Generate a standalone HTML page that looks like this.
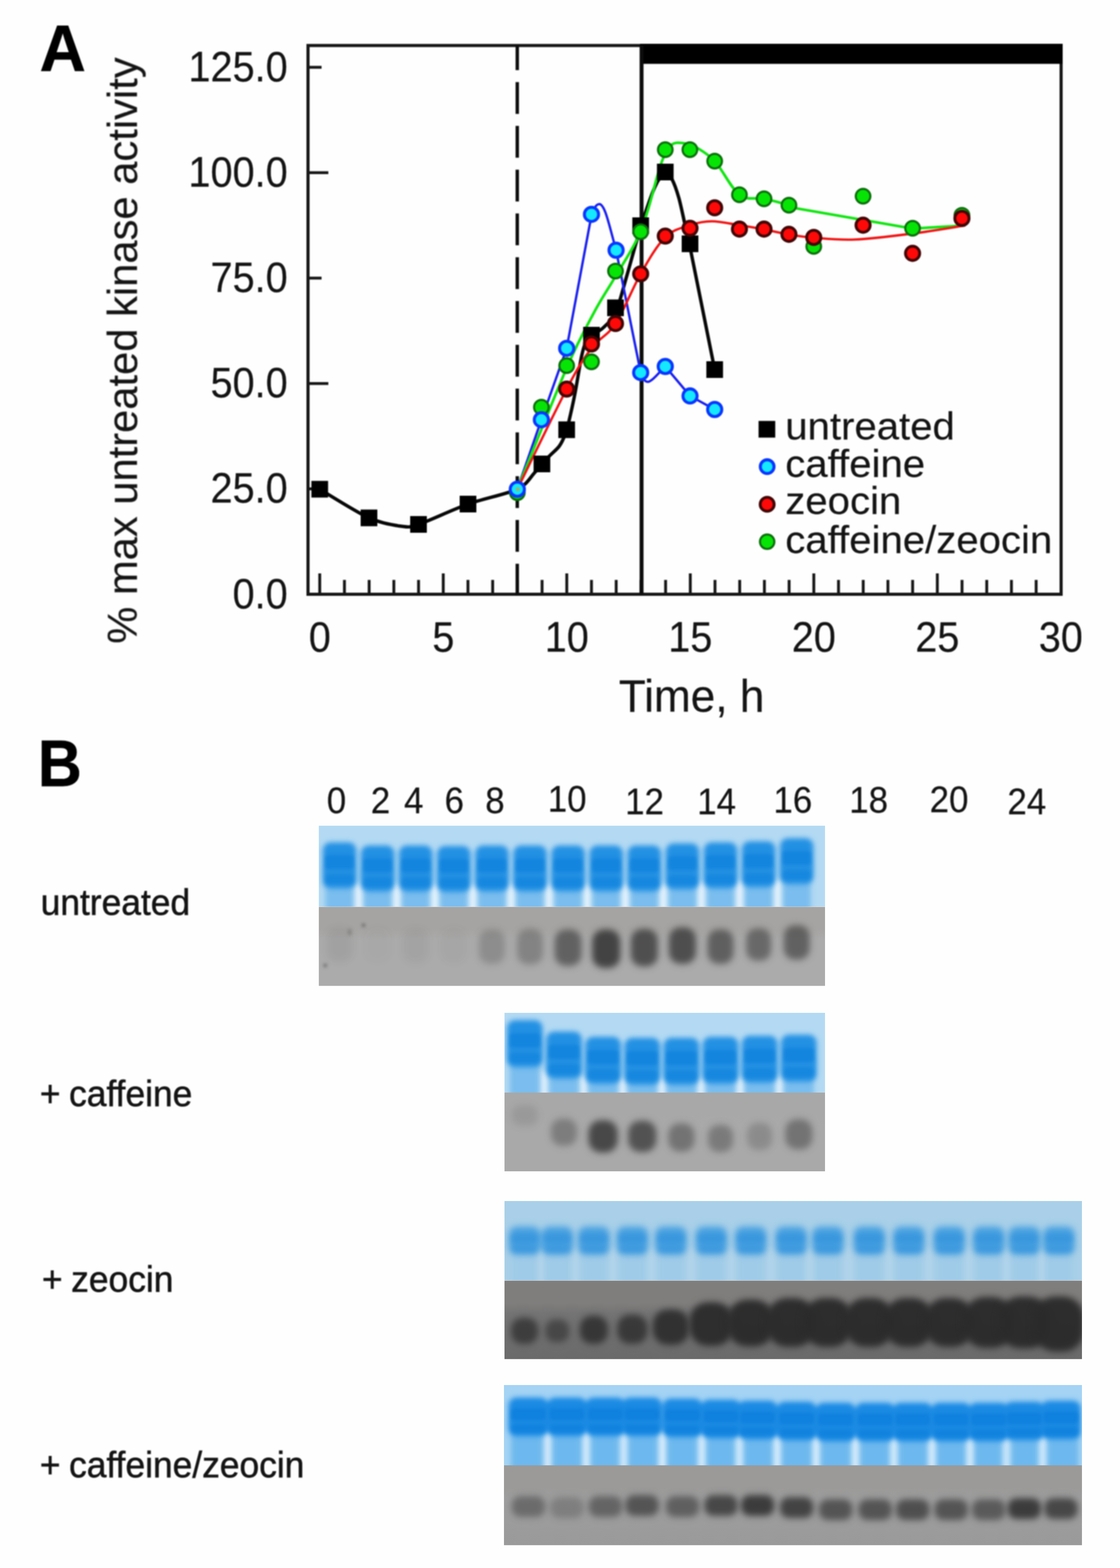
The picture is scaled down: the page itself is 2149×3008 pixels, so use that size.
<!DOCTYPE html>
<html lang="en"><head><meta charset="utf-8"><title>Figure</title>
<style>html,body{margin:0;padding:0;background:#fff}svg{display:block}text{font-family:"Liberation Sans",Arial,Helvetica,sans-serif}</style></head><body>
<svg width="2149" height="3008" viewBox="0 0 2149 3008">
<defs>
<filter id="b1" color-interpolation-filters="sRGB" x="-5%" y="-5%" width="110%" height="110%"><feGaussianBlur stdDeviation="1.3"/></filter>
<filter id="bt" color-interpolation-filters="sRGB" x="-5%" y="-20%" width="110%" height="140%"><feGaussianBlur stdDeviation="1.0"/></filter>
<filter id="b3" color-interpolation-filters="sRGB" x="-100%" y="-100%" width="300%" height="300%"><feGaussianBlur stdDeviation="2.12"/><feGaussianBlur stdDeviation="2.12"/></filter>
<filter id="b5" color-interpolation-filters="sRGB" x="-100%" y="-100%" width="300%" height="300%"><feGaussianBlur stdDeviation="3.54"/><feGaussianBlur stdDeviation="3.54"/></filter>
<filter id="b7" color-interpolation-filters="sRGB" x="-100%" y="-100%" width="300%" height="300%"><feGaussianBlur stdDeviation="4.95"/><feGaussianBlur stdDeviation="4.95"/></filter>
<radialGradient id="rgA" cx="0.5" cy="0.5" r="0.5"><stop offset="0" stop-color="#303030" stop-opacity="1.0"/><stop offset="0.3" stop-color="#303030" stop-opacity="1.0"/><stop offset="0.45" stop-color="#303030" stop-opacity="0.92"/><stop offset="0.58" stop-color="#303030" stop-opacity="0.72"/><stop offset="0.7" stop-color="#303030" stop-opacity="0.45"/><stop offset="0.82" stop-color="#303030" stop-opacity="0.2"/><stop offset="0.92" stop-color="#303030" stop-opacity="0.06"/><stop offset="1" stop-color="#303030" stop-opacity="0"/></radialGradient>
<radialGradient id="rgB" cx="0.5" cy="0.5" r="0.5"><stop offset="0" stop-color="#2a2a2a" stop-opacity="1.0"/><stop offset="0.3" stop-color="#2a2a2a" stop-opacity="1.0"/><stop offset="0.45" stop-color="#2a2a2a" stop-opacity="0.92"/><stop offset="0.58" stop-color="#2a2a2a" stop-opacity="0.72"/><stop offset="0.7" stop-color="#2a2a2a" stop-opacity="0.45"/><stop offset="0.82" stop-color="#2a2a2a" stop-opacity="0.2"/><stop offset="0.92" stop-color="#2a2a2a" stop-opacity="0.06"/><stop offset="1" stop-color="#2a2a2a" stop-opacity="0"/></radialGradient>
<radialGradient id="rgC" cx="0.5" cy="0.5" r="0.5"><stop offset="0" stop-color="#262626" stop-opacity="1.0"/><stop offset="0.3" stop-color="#262626" stop-opacity="1.0"/><stop offset="0.45" stop-color="#262626" stop-opacity="0.92"/><stop offset="0.58" stop-color="#262626" stop-opacity="0.72"/><stop offset="0.7" stop-color="#262626" stop-opacity="0.45"/><stop offset="0.82" stop-color="#262626" stop-opacity="0.2"/><stop offset="0.92" stop-color="#262626" stop-opacity="0.06"/><stop offset="1" stop-color="#262626" stop-opacity="0"/></radialGradient>
</defs>
<rect width="2149" height="3008" fill="#fefefe"/>
<g id="chart" filter="url(#b1)">
<clipPath id="cpf"><rect x="591" y="87.3" width="1445" height="1052.7"/></clipPath>
<rect x="591" y="87.3" width="1445" height="1052.7" fill="none" stroke="#161616" stroke-width="6"/>
<rect x="1228" y="84" width="811" height="38.5" fill="#000"/>
<line x1="613.5" y1="1140" x2="613.5" y2="1100" stroke="#161616" stroke-width="5.5"/>
<line x1="660.9" y1="1140" x2="660.9" y2="1112.5" stroke="#161616" stroke-width="5.5"/>
<line x1="708.3" y1="1140" x2="708.3" y2="1112.5" stroke="#161616" stroke-width="5.5"/>
<line x1="755.7" y1="1140" x2="755.7" y2="1112.5" stroke="#161616" stroke-width="5.5"/>
<line x1="803.1" y1="1140" x2="803.1" y2="1112.5" stroke="#161616" stroke-width="5.5"/>
<line x1="850.5" y1="1140" x2="850.5" y2="1100" stroke="#161616" stroke-width="5.5"/>
<line x1="897.9" y1="1140" x2="897.9" y2="1112.5" stroke="#161616" stroke-width="5.5"/>
<line x1="945.3" y1="1140" x2="945.3" y2="1112.5" stroke="#161616" stroke-width="5.5"/>
<line x1="992.7" y1="1140" x2="992.7" y2="1112.5" stroke="#161616" stroke-width="5.5"/>
<line x1="1040.1" y1="1140" x2="1040.1" y2="1112.5" stroke="#161616" stroke-width="5.5"/>
<line x1="1087.5" y1="1140" x2="1087.5" y2="1100" stroke="#161616" stroke-width="5.5"/>
<line x1="1134.9" y1="1140" x2="1134.9" y2="1112.5" stroke="#161616" stroke-width="5.5"/>
<line x1="1182.3" y1="1140" x2="1182.3" y2="1112.5" stroke="#161616" stroke-width="5.5"/>
<line x1="1229.7" y1="1140" x2="1229.7" y2="1112.5" stroke="#161616" stroke-width="5.5"/>
<line x1="1277.1" y1="1140" x2="1277.1" y2="1112.5" stroke="#161616" stroke-width="5.5"/>
<line x1="1324.5" y1="1140" x2="1324.5" y2="1100" stroke="#161616" stroke-width="5.5"/>
<line x1="1371.9" y1="1140" x2="1371.9" y2="1112.5" stroke="#161616" stroke-width="5.5"/>
<line x1="1419.3" y1="1140" x2="1419.3" y2="1112.5" stroke="#161616" stroke-width="5.5"/>
<line x1="1466.7" y1="1140" x2="1466.7" y2="1112.5" stroke="#161616" stroke-width="5.5"/>
<line x1="1514.1" y1="1140" x2="1514.1" y2="1112.5" stroke="#161616" stroke-width="5.5"/>
<line x1="1561.5" y1="1140" x2="1561.5" y2="1100" stroke="#161616" stroke-width="5.5"/>
<line x1="1608.9" y1="1140" x2="1608.9" y2="1112.5" stroke="#161616" stroke-width="5.5"/>
<line x1="1656.3" y1="1140" x2="1656.3" y2="1112.5" stroke="#161616" stroke-width="5.5"/>
<line x1="1703.7" y1="1140" x2="1703.7" y2="1112.5" stroke="#161616" stroke-width="5.5"/>
<line x1="1751.1" y1="1140" x2="1751.1" y2="1112.5" stroke="#161616" stroke-width="5.5"/>
<line x1="1798.5" y1="1140" x2="1798.5" y2="1100" stroke="#161616" stroke-width="5.5"/>
<line x1="1845.9" y1="1140" x2="1845.9" y2="1112.5" stroke="#161616" stroke-width="5.5"/>
<line x1="1893.3" y1="1140" x2="1893.3" y2="1112.5" stroke="#161616" stroke-width="5.5"/>
<line x1="1940.7" y1="1140" x2="1940.7" y2="1112.5" stroke="#161616" stroke-width="5.5"/>
<line x1="1988.1" y1="1140" x2="1988.1" y2="1112.5" stroke="#161616" stroke-width="5.5"/>
<line x1="591" y1="937.8" x2="617" y2="937.8" stroke="#161616" stroke-width="5.5"/>
<line x1="591" y1="735.7" x2="630" y2="735.7" stroke="#161616" stroke-width="5.5"/>
<line x1="591" y1="533.5" x2="617" y2="533.5" stroke="#161616" stroke-width="5.5"/>
<line x1="591" y1="331.3" x2="630" y2="331.3" stroke="#161616" stroke-width="5.5"/>
<line x1="591" y1="129.1" x2="617" y2="129.1" stroke="#161616" stroke-width="5.5"/>
<line x1="992.5" y1="73.6" x2="992.5" y2="1140" stroke="#0c0c0c" stroke-width="6.5" stroke-dasharray="61 23" clip-path="url(#cpf)"/>
<line x1="1231" y1="87.3" x2="1231" y2="1140" stroke="#0c0c0c" stroke-width="7.5"/>
<path d="M613.5,938.5 C627.7,946.8 684.5,982.9 708.0,993.5 C731.5,1004.1 755.8,1007.6 770.0,1009.5 C784.2,1011.4 783.8,1012.4 803.0,1006.0 C822.2,999.6 869.6,977.1 898.0,967.0 C926.4,956.9 973.3,947.6 992.6,938.5 C1011.9,929.4 1017.4,915.4 1026.5,906.0 C1035.6,896.6 1046.0,883.5 1053.0,876.0 C1060.0,868.5 1068.2,862.6 1073.0,856.0 C1077.8,849.4 1082.3,839.0 1085.0,832.0 C1087.7,825.0 1088.6,820.9 1091.3,809.5 C1094.0,798.1 1099.3,775.0 1103.0,756.0 C1106.7,737.0 1112.8,697.9 1116.0,683.0 C1119.2,668.1 1121.2,662.5 1124.0,656.5 C1126.8,650.5 1130.1,647.0 1134.9,643.0 C1139.7,639.0 1149.1,636.5 1156.0,630.0 C1162.9,623.5 1174.0,615.1 1181.0,600.0 C1188.0,584.9 1195.5,553.6 1202.7,529.0 C1209.9,504.4 1221.3,461.4 1229.3,436.0 C1237.3,410.6 1248.9,375.9 1256.0,360.0 C1263.1,344.1 1271.5,332.6 1276.5,330.0 C1281.5,327.4 1285.1,335.6 1289.0,343.0 C1292.9,350.4 1298.8,366.6 1302.5,379.6 C1306.2,392.6 1310.5,414.0 1314.0,429.5 C1317.5,445.0 1317.1,440.8 1325.7,482.7 C1334.3,524.6 1364.5,675.1 1371.3,709.0" fill="none" stroke="#080808" stroke-width="6.5" stroke-linejoin="round"/>
<path d="M992.6,938.5 L1038.8,805.2 L1087.3,668.2 L1131.5,431 C1137,402 1143,391.5 1150,391.5 C1159,391.5 1166.5,422 1173,446 L1182.1,480 L1229.3,714.7 C1234,729 1240,735 1246.5,731.5 C1257,726 1266,712 1276.5,703 L1324,759.6 L1371.3,785.5" fill="none" stroke="#1a20f0" stroke-width="4.6" stroke-linejoin="round"/>
<path d="M992.6,938.5 C1008.4,899.8 1062.8,762.4 1087.3,706.0 C1111.8,649.6 1123.9,629.3 1139.5,600.0 C1155.1,570.7 1166.0,556.0 1181.0,530.0 C1196.0,504.0 1215.8,476.5 1229.3,444.0 C1242.8,411.5 1256.5,353.2 1262.0,335.0 C1270,306 1281,274.5 1298,274 C1310,273.5 1320,275.5 1332,280 L1332.0,280.0 C1338.5,284.8 1356.8,293.4 1371.3,309.0 C1385.8,324.6 1403.0,361.6 1418.8,373.6 C1434.6,385.7 1450.2,378.0 1466.0,381.3 C1481.8,384.6 1503.1,390.5 1513.8,393.6 C1524.5,396.7 1527.3,398.9 1530.0,400.0 L1751,438.5 L1852,432.5" fill="none" stroke="#12e612" stroke-width="5.2" stroke-linejoin="round"/>
<path d="M992.6,938.5 C1008.4,906.5 1063.6,791.4 1087.3,746.3 C1111.0,701.2 1119.3,688.9 1134.9,668.0 C1150.5,647.1 1165.3,644.8 1181.0,621.0 C1196.7,597.2 1213.4,553.0 1229.3,525.3 C1245.2,497.6 1260.7,470.6 1276.5,455.0 C1292.3,439.4 1309.1,437.1 1324.0,432.0 C1338.9,426.9 1350.2,424.5 1366.0,424.5 C1381.8,424.5 1402.1,429.4 1418.8,432.0 C1435.5,434.6 1450.2,437.0 1466.0,440.0 C1481.8,443.0 1497.9,447.3 1513.8,450.0 C1529.7,452.7 1540.4,454.4 1561.4,456.0 C1582.4,457.6 1608.4,460.8 1640.0,459.5 C1671.6,458.2 1715.7,452.5 1751.0,448.0 C1786.3,443.5 1835.2,435.1 1852.0,432.5" fill="none" stroke="#f21414" stroke-width="4.6" stroke-linejoin="round"/>
<rect x="597.5" y="922.5" width="32" height="32" fill="#000"/>
<rect x="692.0" y="977.5" width="32" height="32" fill="#000"/>
<rect x="787.0" y="990.0" width="32" height="32" fill="#000"/>
<rect x="882.0" y="951.0" width="32" height="32" fill="#000"/>
<rect x="1023.8" y="874.0" width="32" height="32" fill="#000"/>
<rect x="1071.3" y="808.4" width="32" height="32" fill="#000"/>
<rect x="1118.9" y="627.0" width="32" height="32" fill="#000"/>
<rect x="1165.0" y="574.5" width="32" height="32" fill="#000"/>
<rect x="1213.3" y="417.0" width="32" height="32" fill="#000"/>
<rect x="1260.5" y="314.0" width="32" height="32" fill="#000"/>
<rect x="1308.0" y="451.7" width="32" height="32" fill="#000"/>
<rect x="1355.3" y="693.0" width="32" height="32" fill="#000"/>
<circle cx="992.6" cy="945.0" r="14" fill="#06e406" stroke="#0c700c" stroke-width="4.2"/>
<circle cx="1038.8" cy="781.2" r="14" fill="#06e406" stroke="#0c700c" stroke-width="4.2"/>
<circle cx="1087.3" cy="701.4" r="14" fill="#06e406" stroke="#0c700c" stroke-width="4.2"/>
<circle cx="1134.9" cy="694.1" r="14" fill="#06e406" stroke="#0c700c" stroke-width="4.2"/>
<circle cx="1181.0" cy="520.0" r="14" fill="#06e406" stroke="#0c700c" stroke-width="4.2"/>
<circle cx="1229.3" cy="444.5" r="14" fill="#06e406" stroke="#0c700c" stroke-width="4.2"/>
<circle cx="1276.5" cy="287.2" r="14" fill="#06e406" stroke="#0c700c" stroke-width="4.2"/>
<circle cx="1323.7" cy="287.2" r="14" fill="#06e406" stroke="#0c700c" stroke-width="4.2"/>
<circle cx="1371.3" cy="309.1" r="14" fill="#06e406" stroke="#0c700c" stroke-width="4.2"/>
<circle cx="1418.8" cy="373.6" r="14" fill="#06e406" stroke="#0c700c" stroke-width="4.2"/>
<circle cx="1466.0" cy="381.3" r="14" fill="#06e406" stroke="#0c700c" stroke-width="4.2"/>
<circle cx="1513.8" cy="393.6" r="14" fill="#06e406" stroke="#0c700c" stroke-width="4.2"/>
<circle cx="1561.4" cy="472.7" r="14" fill="#06e406" stroke="#0c700c" stroke-width="4.2"/>
<circle cx="1656.0" cy="376.3" r="14" fill="#06e406" stroke="#0c700c" stroke-width="4.2"/>
<circle cx="1751.0" cy="437.8" r="14" fill="#06e406" stroke="#0c700c" stroke-width="4.2"/>
<circle cx="1845.7" cy="413.0" r="14" fill="#06e406" stroke="#0c700c" stroke-width="4.2"/>
<circle cx="1087.3" cy="746.3" r="13.6" fill="#ff0808" stroke="#430505" stroke-width="5.6"/>
<circle cx="1134.9" cy="659.9" r="13.6" fill="#ff0808" stroke="#430505" stroke-width="5.6"/>
<circle cx="1181.0" cy="620.7" r="13.6" fill="#ff0808" stroke="#430505" stroke-width="5.6"/>
<circle cx="1229.3" cy="525.3" r="13.6" fill="#ff0808" stroke="#430505" stroke-width="5.6"/>
<circle cx="1276.5" cy="452.8" r="13.6" fill="#ff0808" stroke="#430505" stroke-width="5.6"/>
<circle cx="1324.0" cy="437.8" r="13.6" fill="#ff0808" stroke="#430505" stroke-width="5.6"/>
<circle cx="1371.3" cy="398.6" r="13.6" fill="#ff0808" stroke="#430505" stroke-width="5.6"/>
<circle cx="1418.8" cy="439.5" r="13.6" fill="#ff0808" stroke="#430505" stroke-width="5.6"/>
<circle cx="1466.0" cy="439.5" r="13.6" fill="#ff0808" stroke="#430505" stroke-width="5.6"/>
<circle cx="1513.8" cy="449.5" r="13.6" fill="#ff0808" stroke="#430505" stroke-width="5.6"/>
<circle cx="1561.4" cy="455.4" r="13.6" fill="#ff0808" stroke="#430505" stroke-width="5.6"/>
<circle cx="1656.0" cy="432.0" r="13.6" fill="#ff0808" stroke="#430505" stroke-width="5.6"/>
<circle cx="1751.0" cy="486.0" r="13.6" fill="#ff0808" stroke="#430505" stroke-width="5.6"/>
<circle cx="1845.7" cy="418.9" r="13.6" fill="#ff0808" stroke="#430505" stroke-width="5.6"/>
<circle cx="992.6" cy="938.5" r="13.6" fill="#14e8ff" stroke="#0a36ff" stroke-width="5.8"/>
<circle cx="1038.8" cy="805.2" r="13.6" fill="#14e8ff" stroke="#0a36ff" stroke-width="5.8"/>
<circle cx="1087.3" cy="668.2" r="13.6" fill="#14e8ff" stroke="#0a36ff" stroke-width="5.8"/>
<circle cx="1134.9" cy="411.2" r="13.6" fill="#14e8ff" stroke="#0a36ff" stroke-width="5.8"/>
<circle cx="1182.1" cy="480.0" r="13.6" fill="#14e8ff" stroke="#0a36ff" stroke-width="5.8"/>
<circle cx="1229.3" cy="714.7" r="13.6" fill="#14e8ff" stroke="#0a36ff" stroke-width="5.8"/>
<circle cx="1276.5" cy="703.0" r="13.6" fill="#14e8ff" stroke="#0a36ff" stroke-width="5.8"/>
<circle cx="1324.0" cy="759.6" r="13.6" fill="#14e8ff" stroke="#0a36ff" stroke-width="5.8"/>
<circle cx="1371.3" cy="785.5" r="13.6" fill="#14e8ff" stroke="#0a36ff" stroke-width="5.8"/>
<circle cx="993.5" cy="938.5" r="4" fill="#c8a040" opacity="0.7"/>
<rect x="1455.5" y="807.5" width="32" height="32" fill="#000"/>
<circle cx="1472.0" cy="895.2" r="13.2" fill="#14e8ff" stroke="#0a36ff" stroke-width="5.8"/>
<circle cx="1472.0" cy="967.4" r="13.4" fill="#ff0808" stroke="#430505" stroke-width="5.6"/>
<circle cx="1472.0" cy="1039.2" r="13.8" fill="#06e406" stroke="#0c700c" stroke-width="4.2"/>
</g>
<g id="labels" filter="url(#bt)">
<text transform="translate(76,136.2) scale(1,1.035)" font-size="122.8" text-anchor="start" font-weight="bold" fill="#000" stroke="#000" stroke-width="0.8">A</text>
<text transform="translate(72.6,1507.8) scale(1,1.075)" font-size="117" text-anchor="start" font-weight="bold" fill="#000" stroke="#000" stroke-width="0.8">B</text>
<text transform="translate(552,1166.6) scale(1,1.075)" font-size="76.1" text-anchor="end" fill="#141414" stroke="#141414" stroke-width="0.3">0.0</text>
<text transform="translate(552,964.4) scale(1,1.075)" font-size="76.1" text-anchor="end" fill="#141414" stroke="#141414" stroke-width="0.3">25.0</text>
<text transform="translate(552,762.3) scale(1,1.075)" font-size="76.1" text-anchor="end" fill="#141414" stroke="#141414" stroke-width="0.3">50.0</text>
<text transform="translate(552,560.1) scale(1,1.075)" font-size="76.1" text-anchor="end" fill="#141414" stroke="#141414" stroke-width="0.3">75.0</text>
<text transform="translate(552,357.9) scale(1,1.075)" font-size="76.1" text-anchor="end" fill="#141414" stroke="#141414" stroke-width="0.3">100.0</text>
<text transform="translate(552,155.7) scale(1,1.075)" font-size="76.1" text-anchor="end" fill="#141414" stroke="#141414" stroke-width="0.3">125.0</text>
<text transform="translate(613.5,1250) scale(1,1.08)" font-size="76" text-anchor="middle" fill="#141414" stroke="#141414" stroke-width="0.3">0</text>
<text transform="translate(850.5,1250) scale(1,1.08)" font-size="76" text-anchor="middle" fill="#141414" stroke="#141414" stroke-width="0.3">5</text>
<text transform="translate(1087.5,1250) scale(1,1.08)" font-size="76" text-anchor="middle" fill="#141414" stroke="#141414" stroke-width="0.3">10</text>
<text transform="translate(1324.5,1250) scale(1,1.08)" font-size="76" text-anchor="middle" fill="#141414" stroke="#141414" stroke-width="0.3">15</text>
<text transform="translate(1561.5,1250) scale(1,1.08)" font-size="76" text-anchor="middle" fill="#141414" stroke="#141414" stroke-width="0.3">20</text>
<text transform="translate(1798.5,1250) scale(1,1.08)" font-size="76" text-anchor="middle" fill="#141414" stroke="#141414" stroke-width="0.3">25</text>
<text transform="translate(2035.5,1250) scale(1,1.08)" font-size="76" text-anchor="middle" fill="#141414" stroke="#141414" stroke-width="0.3">30</text>
<text transform="translate(1327,1365) scale(1,1.035)" font-size="84.8" text-anchor="middle" fill="#141414" stroke="#141414" stroke-width="0.3">Time, h</text>
<text transform="translate(262.5,672.5) rotate(-90) scale(1,0.985)" font-size="80.0" text-anchor="middle" fill="#141414" stroke="#141414" stroke-width="0.3">% max untreated kinase activity</text>
<text transform="translate(1506.8,843.3) scale(1,0.965)" font-size="77" text-anchor="start" fill="#141414" stroke="#141414" stroke-width="0.3">untreated</text>
<text transform="translate(1506.8,915) scale(1,0.965)" font-size="77" text-anchor="start" fill="#141414" stroke="#141414" stroke-width="0.3">caffeine</text>
<text transform="translate(1506.8,985.8) scale(1,0.965)" font-size="77" text-anchor="start" fill="#141414" stroke="#141414" stroke-width="0.3">zeocin</text>
<text transform="translate(1506.8,1061.4) scale(1,0.965)" font-size="77" text-anchor="start" fill="#141414" stroke="#141414" stroke-width="0.3">caffeine/zeocin</text>
<text transform="translate(78,1754.6) scale(1,1.03)" font-size="67.9" text-anchor="start" fill="#141414" stroke="#141414" stroke-width="0.9">untreated</text>
<text transform="translate(76.5,2121.8) scale(1,1.03)" font-size="67.9" text-anchor="start" fill="#141414" stroke="#141414" stroke-width="0.9">+<tspan dx="-2.5"> caffeine</tspan></text>
<text transform="translate(80.5,2478.3) scale(1,1.03)" font-size="67.9" text-anchor="start" fill="#141414" stroke="#141414" stroke-width="0.9">+<tspan dx="-2.5"> zeocin</tspan></text>
<text transform="translate(76.5,2834) scale(1,1.03)" font-size="67.9" text-anchor="start" fill="#141414" stroke="#141414" stroke-width="0.9">+<tspan dx="-2.5"> caffeine/zeocin</tspan></text>
<text transform="translate(645.5,1559.7) scale(1,1.055)" font-size="67" text-anchor="middle" fill="#141414" stroke="#141414" stroke-width="0.3">0</text>
<text transform="translate(730,1559.7) scale(1,1.055)" font-size="67" text-anchor="middle" fill="#141414" stroke="#141414" stroke-width="0.3">2</text>
<text transform="translate(793.8,1559.7) scale(1,1.055)" font-size="67" text-anchor="middle" fill="#141414" stroke="#141414" stroke-width="0.3">4</text>
<text transform="translate(871.7,1559.7) scale(1,1.055)" font-size="67" text-anchor="middle" fill="#141414" stroke="#141414" stroke-width="0.3">6</text>
<text transform="translate(949.6,1559.7) scale(1,1.055)" font-size="67" text-anchor="middle" fill="#141414" stroke="#141414" stroke-width="0.3">8</text>
<text transform="translate(1088.3,1557.2) scale(1,1.055)" font-size="67" text-anchor="middle" fill="#141414" stroke="#141414" stroke-width="0.3">10</text>
<text transform="translate(1236.8,1561.5) scale(1,1.055)" font-size="67" text-anchor="middle" fill="#141414" stroke="#141414" stroke-width="0.3">12</text>
<text transform="translate(1375,1561.5) scale(1,1.055)" font-size="67" text-anchor="middle" fill="#141414" stroke="#141414" stroke-width="0.3">14</text>
<text transform="translate(1521.2,1558.5) scale(1,1.055)" font-size="67" text-anchor="middle" fill="#141414" stroke="#141414" stroke-width="0.3">16</text>
<text transform="translate(1666.7,1558.5) scale(1,1.055)" font-size="67" text-anchor="middle" fill="#141414" stroke="#141414" stroke-width="0.3">18</text>
<text transform="translate(1821,1558.3) scale(1,1.055)" font-size="67" text-anchor="middle" fill="#141414" stroke="#141414" stroke-width="0.3">20</text>
<text transform="translate(1970.3,1562) scale(1,1.055)" font-size="67" text-anchor="middle" fill="#141414" stroke="#141414" stroke-width="0.3">24</text>
</g>
<g id="gels">
<clipPath id="cb1"><rect x="611.5" y="1584" width="971.5" height="155.5"/></clipPath>
<clipPath id="cg1"><rect x="611.5" y="1739.5" width="971.5" height="152.0"/></clipPath>
<linearGradient id="lg1" x1="0" y1="0" x2="0" y2="1"><stop offset="0" stop-color="#a6a4a2"/><stop offset="0.28" stop-color="#a6a4a2"/><stop offset="0.42" stop-color="#ababab"/><stop offset="1" stop-color="#ababab"/></linearGradient>
<g clip-path="url(#cb1)">
<rect x="611.5" y="1584" width="971.5" height="155.5" fill="#b4daf3"/>
<g filter="url(#b5)">
<rect x="624.5" y="1660.0" width="54" height="109.5" fill="#4aa6ea" fill-opacity="0.55"/>
<rect x="697.6" y="1666.0" width="54" height="103.5" fill="#4aa6ea" fill-opacity="0.55"/>
<rect x="770.7" y="1666.0" width="54" height="103.5" fill="#4aa6ea" fill-opacity="0.55"/>
<rect x="843.8" y="1667.0" width="54" height="102.5" fill="#4aa6ea" fill-opacity="0.55"/>
<rect x="916.9" y="1666.0" width="54" height="103.5" fill="#4aa6ea" fill-opacity="0.55"/>
<rect x="990.0" y="1666.0" width="54" height="103.5" fill="#4aa6ea" fill-opacity="0.55"/>
<rect x="1063.1" y="1666.0" width="54" height="103.5" fill="#4aa6ea" fill-opacity="0.55"/>
<rect x="1136.2" y="1666.0" width="54" height="103.5" fill="#4aa6ea" fill-opacity="0.55"/>
<rect x="1209.3" y="1666.0" width="54" height="103.5" fill="#4aa6ea" fill-opacity="0.55"/>
<rect x="1282.4" y="1662.0" width="54" height="107.5" fill="#4aa6ea" fill-opacity="0.55"/>
<rect x="1355.5" y="1660.0" width="54" height="109.5" fill="#4aa6ea" fill-opacity="0.55"/>
<rect x="1428.6" y="1658.0" width="54" height="111.5" fill="#4aa6ea" fill-opacity="0.55"/>
<rect x="1501.7" y="1652.0" width="54" height="117.5" fill="#4aa6ea" fill-opacity="0.55"/>
<rect x="681.5" y="1696.0" width="13" height="73.5" fill="#f4faff" fill-opacity="0.8"/>
<rect x="754.7" y="1696.0" width="13" height="73.5" fill="#f4faff" fill-opacity="0.8"/>
<rect x="827.8" y="1697.0" width="13" height="72.5" fill="#f4faff" fill-opacity="0.8"/>
<rect x="900.8" y="1697.0" width="13" height="72.5" fill="#f4faff" fill-opacity="0.8"/>
<rect x="974.0" y="1696.0" width="13" height="73.5" fill="#f4faff" fill-opacity="0.8"/>
<rect x="1047.0" y="1696.0" width="13" height="73.5" fill="#f4faff" fill-opacity="0.8"/>
<rect x="1120.1" y="1696.0" width="13" height="73.5" fill="#f4faff" fill-opacity="0.8"/>
<rect x="1193.2" y="1696.0" width="13" height="73.5" fill="#f4faff" fill-opacity="0.8"/>
<rect x="1266.3" y="1696.0" width="13" height="73.5" fill="#f4faff" fill-opacity="0.8"/>
<rect x="1339.5" y="1692.0" width="13" height="77.5" fill="#f4faff" fill-opacity="0.8"/>
<rect x="1412.5" y="1690.0" width="13" height="79.5" fill="#f4faff" fill-opacity="0.8"/>
<rect x="1485.6" y="1688.0" width="13" height="81.5" fill="#f4faff" fill-opacity="0.8"/>
</g>
<g filter="url(#b5)">
<rect x="619.5" y="1616.0" width="64" height="88" rx="15" fill="#2290e3" fill-opacity="1.0"/>
<rect x="692.6" y="1622.0" width="64" height="88" rx="15" fill="#2290e3" fill-opacity="1.0"/>
<rect x="765.7" y="1622.0" width="64" height="88" rx="15" fill="#2290e3" fill-opacity="1.0"/>
<rect x="838.8" y="1623.0" width="64" height="88" rx="15" fill="#2290e3" fill-opacity="1.0"/>
<rect x="911.9" y="1622.0" width="64" height="88" rx="15" fill="#2290e3" fill-opacity="1.0"/>
<rect x="985.0" y="1622.0" width="64" height="88" rx="15" fill="#2290e3" fill-opacity="1.0"/>
<rect x="1058.1" y="1622.0" width="64" height="88" rx="15" fill="#2290e3" fill-opacity="1.0"/>
<rect x="1131.2" y="1622.0" width="64" height="88" rx="15" fill="#2290e3" fill-opacity="1.0"/>
<rect x="1204.3" y="1622.0" width="64" height="88" rx="15" fill="#2290e3" fill-opacity="1.0"/>
<rect x="1277.4" y="1618.0" width="64" height="88" rx="15" fill="#2290e3" fill-opacity="1.0"/>
<rect x="1350.5" y="1616.0" width="64" height="88" rx="15" fill="#2290e3" fill-opacity="1.0"/>
<rect x="1423.6" y="1614.0" width="64" height="88" rx="15" fill="#2290e3" fill-opacity="1.0"/>
<rect x="1496.7" y="1608.0" width="64" height="88" rx="15" fill="#2290e3" fill-opacity="1.0"/>
</g>
<g filter="url(#b3)">
<rect x="624.5" y="1640.6" width="54" height="26.4" rx="6" fill="#0f82dc" fill-opacity="0.75"/>
<rect x="625.5" y="1677.6" width="52" height="17.6" rx="6" fill="#0f82dc" fill-opacity="0.6"/>
<rect x="697.6" y="1646.6" width="54" height="26.4" rx="6" fill="#0f82dc" fill-opacity="0.75"/>
<rect x="698.6" y="1683.6" width="52" height="17.6" rx="6" fill="#0f82dc" fill-opacity="0.6"/>
<rect x="770.7" y="1646.6" width="54" height="26.4" rx="6" fill="#0f82dc" fill-opacity="0.75"/>
<rect x="771.7" y="1683.6" width="52" height="17.6" rx="6" fill="#0f82dc" fill-opacity="0.6"/>
<rect x="843.8" y="1647.6" width="54" height="26.4" rx="6" fill="#0f82dc" fill-opacity="0.75"/>
<rect x="844.8" y="1684.6" width="52" height="17.6" rx="6" fill="#0f82dc" fill-opacity="0.6"/>
<rect x="916.9" y="1646.6" width="54" height="26.4" rx="6" fill="#0f82dc" fill-opacity="0.75"/>
<rect x="917.9" y="1683.6" width="52" height="17.6" rx="6" fill="#0f82dc" fill-opacity="0.6"/>
<rect x="990.0" y="1646.6" width="54" height="26.4" rx="6" fill="#0f82dc" fill-opacity="0.75"/>
<rect x="991.0" y="1683.6" width="52" height="17.6" rx="6" fill="#0f82dc" fill-opacity="0.6"/>
<rect x="1063.1" y="1646.6" width="54" height="26.4" rx="6" fill="#0f82dc" fill-opacity="0.75"/>
<rect x="1064.1" y="1683.6" width="52" height="17.6" rx="6" fill="#0f82dc" fill-opacity="0.6"/>
<rect x="1136.2" y="1646.6" width="54" height="26.4" rx="6" fill="#0f82dc" fill-opacity="0.75"/>
<rect x="1137.2" y="1683.6" width="52" height="17.6" rx="6" fill="#0f82dc" fill-opacity="0.6"/>
<rect x="1209.3" y="1646.6" width="54" height="26.4" rx="6" fill="#0f82dc" fill-opacity="0.75"/>
<rect x="1210.3" y="1683.6" width="52" height="17.6" rx="6" fill="#0f82dc" fill-opacity="0.6"/>
<rect x="1282.4" y="1642.6" width="54" height="26.4" rx="6" fill="#0f82dc" fill-opacity="0.75"/>
<rect x="1283.4" y="1679.6" width="52" height="17.6" rx="6" fill="#0f82dc" fill-opacity="0.6"/>
<rect x="1355.5" y="1640.6" width="54" height="26.4" rx="6" fill="#0f82dc" fill-opacity="0.75"/>
<rect x="1356.5" y="1677.6" width="52" height="17.6" rx="6" fill="#0f82dc" fill-opacity="0.6"/>
<rect x="1428.6" y="1638.6" width="54" height="26.4" rx="6" fill="#0f82dc" fill-opacity="0.75"/>
<rect x="1429.6" y="1675.6" width="52" height="17.6" rx="6" fill="#0f82dc" fill-opacity="0.6"/>
<rect x="1501.7" y="1632.6" width="54" height="26.4" rx="6" fill="#0f82dc" fill-opacity="0.75"/>
<rect x="1502.7" y="1669.6" width="52" height="17.6" rx="6" fill="#0f82dc" fill-opacity="0.6"/>
</g>
</g>
<g clip-path="url(#cg1)">
<rect x="611.5" y="1739.5" width="971.5" height="152.0" fill="url(#lg1)"/>
<rect x="626.5" y="1779.0" width="50" height="66" rx="21.0" fill="#303030" fill-opacity="0.07" filter="url(#b7)"/>
<rect x="699.6" y="1779.0" width="50" height="66" rx="21.0" fill="#303030" fill-opacity="0.02" filter="url(#b7)"/>
<rect x="772.7" y="1781.0" width="50" height="66" rx="21.0" fill="#303030" fill-opacity="0.06" filter="url(#b7)"/>
<rect x="845.8" y="1781.0" width="50" height="66" rx="21.0" fill="#303030" fill-opacity="0.04" filter="url(#b7)"/>
<rect x="918.9" y="1783.0" width="50" height="66" rx="21.0" fill="#303030" fill-opacity="0.24" filter="url(#b7)"/>
<rect x="992.0" y="1782.0" width="50" height="68" rx="21.0" fill="#303030" fill-opacity="0.32" filter="url(#b7)"/>
<rect x="1064.1" y="1783.0" width="52" height="70" rx="21.8" fill="#303030" fill-opacity="0.6" filter="url(#b7)"/>
<rect x="1136.2" y="1783.0" width="54" height="74" rx="22.7" fill="#303030" fill-opacity="0.85" filter="url(#b7)"/>
<rect x="1210.3" y="1782.0" width="52" height="72" rx="21.8" fill="#303030" fill-opacity="0.75" filter="url(#b7)"/>
<rect x="1283.4" y="1779.0" width="52" height="70" rx="21.8" fill="#303030" fill-opacity="0.76" filter="url(#b7)"/>
<rect x="1357.5" y="1783.0" width="50" height="66" rx="21.0" fill="#303030" fill-opacity="0.62" filter="url(#b7)"/>
<rect x="1431.6" y="1781.0" width="48" height="62" rx="20.2" fill="#303030" fill-opacity="0.54" filter="url(#b7)"/>
<rect x="1503.7" y="1775.0" width="50" height="66" rx="21.0" fill="#303030" fill-opacity="0.6" filter="url(#b7)"/>
<g filter="url(#b3)" fill="#555"><circle cx="697.5" cy="1775" r="3.5" opacity=".7"/><circle cx="624" cy="1852" r="3.5" opacity=".7"/><ellipse cx="671" cy="1788" rx="4" ry="7" opacity=".35"/></g>
</g>
<clipPath id="cb2"><rect x="968" y="1943" width="615" height="153"/></clipPath>
<clipPath id="cg2"><rect x="968" y="2096" width="615" height="151"/></clipPath>
<linearGradient id="lg2" x1="0" y1="0" x2="0" y2="1"><stop offset="0" stop-color="#a8a8a8"/><stop offset="0.28" stop-color="#a8a8a8"/><stop offset="0.42" stop-color="#a9a9a9"/><stop offset="1" stop-color="#a9a9a9"/></linearGradient>
<g clip-path="url(#cb2)">
<rect x="968" y="1943" width="615" height="153" fill="#b4daf3"/>
<g filter="url(#b5)">
<rect x="978.0" y="2002.0" width="58" height="124.0" fill="#4aa6ea" fill-opacity="0.55"/>
<rect x="1053.1" y="2024.0" width="58" height="102.0" fill="#4aa6ea" fill-opacity="0.55"/>
<rect x="1128.2" y="2034.0" width="58" height="92.0" fill="#4aa6ea" fill-opacity="0.55"/>
<rect x="1203.3" y="2036.0" width="58" height="90.0" fill="#4aa6ea" fill-opacity="0.55"/>
<rect x="1278.4" y="2036.0" width="58" height="90.0" fill="#4aa6ea" fill-opacity="0.55"/>
<rect x="1353.5" y="2034.0" width="58" height="92.0" fill="#4aa6ea" fill-opacity="0.55"/>
<rect x="1428.6" y="2032.0" width="58" height="94.0" fill="#4aa6ea" fill-opacity="0.55"/>
<rect x="1503.7" y="2030.0" width="58" height="96.0" fill="#4aa6ea" fill-opacity="0.55"/>
<rect x="1039.0" y="2055.0" width="11" height="71.0" fill="#f4faff" fill-opacity="0.75"/>
<rect x="1114.2" y="2065.0" width="11" height="61.0" fill="#f4faff" fill-opacity="0.75"/>
<rect x="1189.2" y="2067.0" width="11" height="59.0" fill="#f4faff" fill-opacity="0.75"/>
<rect x="1264.3" y="2067.0" width="11" height="59.0" fill="#f4faff" fill-opacity="0.75"/>
<rect x="1339.5" y="2067.0" width="11" height="59.0" fill="#f4faff" fill-opacity="0.75"/>
<rect x="1414.5" y="2065.0" width="11" height="61.0" fill="#f4faff" fill-opacity="0.75"/>
<rect x="1489.6" y="2063.0" width="11" height="63.0" fill="#f4faff" fill-opacity="0.75"/>
</g>
<g filter="url(#b5)">
<rect x="973.0" y="1957.0" width="68" height="90" rx="15" fill="#2290e3" fill-opacity="1.0"/>
<rect x="1048.1" y="1979.0" width="68" height="90" rx="15" fill="#2290e3" fill-opacity="1.0"/>
<rect x="1123.2" y="1989.0" width="68" height="90" rx="15" fill="#2290e3" fill-opacity="1.0"/>
<rect x="1198.3" y="1991.0" width="68" height="90" rx="15" fill="#2290e3" fill-opacity="1.0"/>
<rect x="1273.4" y="1991.0" width="68" height="90" rx="15" fill="#2290e3" fill-opacity="1.0"/>
<rect x="1348.5" y="1989.0" width="68" height="90" rx="15" fill="#2290e3" fill-opacity="1.0"/>
<rect x="1423.6" y="1987.0" width="68" height="90" rx="15" fill="#2290e3" fill-opacity="1.0"/>
<rect x="1498.7" y="1985.0" width="68" height="90" rx="15" fill="#2290e3" fill-opacity="1.0"/>
</g>
<g filter="url(#b3)">
<rect x="978.0" y="1982.2" width="58" height="27.0" rx="6" fill="#0f82dc" fill-opacity="0.75"/>
<rect x="979.0" y="2020.0" width="56" height="18.0" rx="6" fill="#0f82dc" fill-opacity="0.6"/>
<rect x="1053.1" y="2004.2" width="58" height="27.0" rx="6" fill="#0f82dc" fill-opacity="0.75"/>
<rect x="1054.1" y="2042.0" width="56" height="18.0" rx="6" fill="#0f82dc" fill-opacity="0.6"/>
<rect x="1128.2" y="2014.2" width="58" height="27.0" rx="6" fill="#0f82dc" fill-opacity="0.75"/>
<rect x="1129.2" y="2052.0" width="56" height="18.0" rx="6" fill="#0f82dc" fill-opacity="0.6"/>
<rect x="1203.3" y="2016.2" width="58" height="27.0" rx="6" fill="#0f82dc" fill-opacity="0.75"/>
<rect x="1204.3" y="2054.0" width="56" height="18.0" rx="6" fill="#0f82dc" fill-opacity="0.6"/>
<rect x="1278.4" y="2016.2" width="58" height="27.0" rx="6" fill="#0f82dc" fill-opacity="0.75"/>
<rect x="1279.4" y="2054.0" width="56" height="18.0" rx="6" fill="#0f82dc" fill-opacity="0.6"/>
<rect x="1353.5" y="2014.2" width="58" height="27.0" rx="6" fill="#0f82dc" fill-opacity="0.75"/>
<rect x="1354.5" y="2052.0" width="56" height="18.0" rx="6" fill="#0f82dc" fill-opacity="0.6"/>
<rect x="1428.6" y="2012.2" width="58" height="27.0" rx="6" fill="#0f82dc" fill-opacity="0.75"/>
<rect x="1429.6" y="2050.0" width="56" height="18.0" rx="6" fill="#0f82dc" fill-opacity="0.6"/>
<rect x="1503.7" y="2010.2" width="58" height="27.0" rx="6" fill="#0f82dc" fill-opacity="0.75"/>
<rect x="1504.7" y="2048.0" width="56" height="18.0" rx="6" fill="#0f82dc" fill-opacity="0.6"/>
</g>
</g>
<g clip-path="url(#cg2)">
<rect x="968" y="2096" width="615" height="151" fill="url(#lg2)"/>
<rect x="982.0" y="2120.0" width="50" height="40" rx="16.8" fill="#303030" fill-opacity="0.12" filter="url(#b7)"/>
<rect x="1057.1" y="2146.0" width="50" height="52" rx="21.0" fill="#303030" fill-opacity="0.36" filter="url(#b7)"/>
<rect x="1129.2" y="2149.0" width="56" height="62" rx="23.5" fill="#303030" fill-opacity="0.8" filter="url(#b7)"/>
<rect x="1205.3" y="2150.0" width="54" height="60" rx="22.7" fill="#303030" fill-opacity="0.72" filter="url(#b7)"/>
<rect x="1282.4" y="2155.0" width="50" height="54" rx="21.0" fill="#303030" fill-opacity="0.45" filter="url(#b7)"/>
<rect x="1358.5" y="2158.0" width="48" height="52" rx="20.2" fill="#303030" fill-opacity="0.38" filter="url(#b7)"/>
<rect x="1433.6" y="2154.0" width="48" height="52" rx="20.2" fill="#303030" fill-opacity="0.24" filter="url(#b7)"/>
<rect x="1506.7" y="2147.0" width="52" height="58" rx="21.8" fill="#303030" fill-opacity="0.45" filter="url(#b7)"/>
</g>
<clipPath id="cb3"><rect x="968" y="2304" width="1108" height="152.5"/></clipPath>
<clipPath id="cg3"><rect x="968" y="2456.5" width="1108" height="151.0"/></clipPath>
<linearGradient id="lg3" x1="0" y1="0" x2="0" y2="1"><stop offset="0" stop-color="#807e7d"/><stop offset="0.28" stop-color="#807e7d"/><stop offset="0.42" stop-color="#747474"/><stop offset="1" stop-color="#6a6a6a"/></linearGradient>
<g clip-path="url(#cb3)">
<rect x="968" y="2304" width="1108" height="152.5" fill="#a9d0e8"/>
<g filter="url(#b5)">
<rect x="981.5" y="2380.0" width="50" height="106.5" fill="#8fc4e8" fill-opacity="0.35"/>
<rect x="1044.3" y="2380.0" width="50" height="106.5" fill="#8fc4e8" fill-opacity="0.35"/>
<rect x="1114.5" y="2380.0" width="50" height="106.5" fill="#8fc4e8" fill-opacity="0.35"/>
<rect x="1188.4" y="2380.0" width="50" height="106.5" fill="#8fc4e8" fill-opacity="0.35"/>
<rect x="1262.3" y="2380.0" width="50" height="106.5" fill="#8fc4e8" fill-opacity="0.35"/>
<rect x="1339.9" y="2380.0" width="50" height="106.5" fill="#8fc4e8" fill-opacity="0.35"/>
<rect x="1415.6" y="2380.0" width="50" height="106.5" fill="#8fc4e8" fill-opacity="0.35"/>
<rect x="1493.0" y="2380.0" width="50" height="106.5" fill="#8fc4e8" fill-opacity="0.35"/>
<rect x="1563.7" y="2380.0" width="50" height="106.5" fill="#8fc4e8" fill-opacity="0.35"/>
<rect x="1643.0" y="2380.0" width="50" height="106.5" fill="#8fc4e8" fill-opacity="0.35"/>
<rect x="1718.8" y="2380.0" width="50" height="106.5" fill="#8fc4e8" fill-opacity="0.35"/>
<rect x="1796.4" y="2380.0" width="50" height="106.5" fill="#8fc4e8" fill-opacity="0.35"/>
<rect x="1872.0" y="2380.0" width="50" height="106.5" fill="#8fc4e8" fill-opacity="0.35"/>
<rect x="1940.5" y="2380.0" width="50" height="106.5" fill="#8fc4e8" fill-opacity="0.35"/>
<rect x="2007.0" y="2380.0" width="50" height="106.5" fill="#8fc4e8" fill-opacity="0.35"/>
<rect x="1032.9" y="2393.0" width="10" height="93.5" fill="#f4faff" fill-opacity="0.15"/>
<rect x="1099.4" y="2393.0" width="10" height="93.5" fill="#f4faff" fill-opacity="0.15"/>
<rect x="1171.5" y="2393.0" width="10" height="93.5" fill="#f4faff" fill-opacity="0.15"/>
<rect x="1245.3" y="2393.0" width="10" height="93.5" fill="#f4faff" fill-opacity="0.15"/>
<rect x="1321.1" y="2393.0" width="10" height="93.5" fill="#f4faff" fill-opacity="0.15"/>
<rect x="1397.8" y="2393.0" width="10" height="93.5" fill="#f4faff" fill-opacity="0.15"/>
<rect x="1474.3" y="2393.0" width="10" height="93.5" fill="#f4faff" fill-opacity="0.15"/>
<rect x="1548.3" y="2393.0" width="10" height="93.5" fill="#f4faff" fill-opacity="0.15"/>
<rect x="1623.3" y="2393.0" width="10" height="93.5" fill="#f4faff" fill-opacity="0.15"/>
<rect x="1700.9" y="2393.0" width="10" height="93.5" fill="#f4faff" fill-opacity="0.15"/>
<rect x="1777.6" y="2393.0" width="10" height="93.5" fill="#f4faff" fill-opacity="0.15"/>
<rect x="1854.2" y="2393.0" width="10" height="93.5" fill="#f4faff" fill-opacity="0.15"/>
<rect x="1926.2" y="2393.0" width="10" height="93.5" fill="#f4faff" fill-opacity="0.15"/>
<rect x="1993.8" y="2393.0" width="10" height="93.5" fill="#f4faff" fill-opacity="0.15"/>
</g>
<g filter="url(#b7)">
<rect x="976.5" y="2353.0" width="60" height="54" rx="15" fill="#46a0e0" fill-opacity="1.0"/>
<rect x="1039.3" y="2353.0" width="60" height="54" rx="15" fill="#46a0e0" fill-opacity="1.0"/>
<rect x="1109.5" y="2353.0" width="60" height="54" rx="15" fill="#46a0e0" fill-opacity="1.0"/>
<rect x="1183.4" y="2353.0" width="60" height="54" rx="15" fill="#46a0e0" fill-opacity="1.0"/>
<rect x="1257.3" y="2353.0" width="60" height="54" rx="15" fill="#46a0e0" fill-opacity="1.0"/>
<rect x="1334.9" y="2353.0" width="60" height="54" rx="15" fill="#46a0e0" fill-opacity="1.0"/>
<rect x="1410.6" y="2353.0" width="60" height="54" rx="15" fill="#46a0e0" fill-opacity="1.0"/>
<rect x="1488.0" y="2353.0" width="60" height="54" rx="15" fill="#46a0e0" fill-opacity="1.0"/>
<rect x="1558.7" y="2353.0" width="60" height="54" rx="15" fill="#46a0e0" fill-opacity="1.0"/>
<rect x="1638.0" y="2353.0" width="60" height="54" rx="15" fill="#46a0e0" fill-opacity="1.0"/>
<rect x="1713.8" y="2353.0" width="60" height="54" rx="15" fill="#46a0e0" fill-opacity="1.0"/>
<rect x="1791.4" y="2353.0" width="60" height="54" rx="15" fill="#46a0e0" fill-opacity="1.0"/>
<rect x="1867.0" y="2353.0" width="60" height="54" rx="15" fill="#46a0e0" fill-opacity="1.0"/>
<rect x="1935.5" y="2353.0" width="60" height="54" rx="15" fill="#46a0e0" fill-opacity="1.0"/>
<rect x="2002.0" y="2353.0" width="60" height="54" rx="15" fill="#46a0e0" fill-opacity="1.0"/>
</g>
<g filter="url(#b5)">
<rect x="981.5" y="2368.1" width="50" height="16.2" rx="6" fill="#3493dc" fill-opacity="0.75"/>
<rect x="982.5" y="2390.8" width="48" height="10.8" rx="6" fill="#3493dc" fill-opacity="0.6"/>
<rect x="1044.3" y="2368.1" width="50" height="16.2" rx="6" fill="#3493dc" fill-opacity="0.75"/>
<rect x="1045.3" y="2390.8" width="48" height="10.8" rx="6" fill="#3493dc" fill-opacity="0.6"/>
<rect x="1114.5" y="2368.1" width="50" height="16.2" rx="6" fill="#3493dc" fill-opacity="0.75"/>
<rect x="1115.5" y="2390.8" width="48" height="10.8" rx="6" fill="#3493dc" fill-opacity="0.6"/>
<rect x="1188.4" y="2368.1" width="50" height="16.2" rx="6" fill="#3493dc" fill-opacity="0.75"/>
<rect x="1189.4" y="2390.8" width="48" height="10.8" rx="6" fill="#3493dc" fill-opacity="0.6"/>
<rect x="1262.3" y="2368.1" width="50" height="16.2" rx="6" fill="#3493dc" fill-opacity="0.75"/>
<rect x="1263.3" y="2390.8" width="48" height="10.8" rx="6" fill="#3493dc" fill-opacity="0.6"/>
<rect x="1339.9" y="2368.1" width="50" height="16.2" rx="6" fill="#3493dc" fill-opacity="0.75"/>
<rect x="1340.9" y="2390.8" width="48" height="10.8" rx="6" fill="#3493dc" fill-opacity="0.6"/>
<rect x="1415.6" y="2368.1" width="50" height="16.2" rx="6" fill="#3493dc" fill-opacity="0.75"/>
<rect x="1416.6" y="2390.8" width="48" height="10.8" rx="6" fill="#3493dc" fill-opacity="0.6"/>
<rect x="1493.0" y="2368.1" width="50" height="16.2" rx="6" fill="#3493dc" fill-opacity="0.75"/>
<rect x="1494.0" y="2390.8" width="48" height="10.8" rx="6" fill="#3493dc" fill-opacity="0.6"/>
<rect x="1563.7" y="2368.1" width="50" height="16.2" rx="6" fill="#3493dc" fill-opacity="0.75"/>
<rect x="1564.7" y="2390.8" width="48" height="10.8" rx="6" fill="#3493dc" fill-opacity="0.6"/>
<rect x="1643.0" y="2368.1" width="50" height="16.2" rx="6" fill="#3493dc" fill-opacity="0.75"/>
<rect x="1644.0" y="2390.8" width="48" height="10.8" rx="6" fill="#3493dc" fill-opacity="0.6"/>
<rect x="1718.8" y="2368.1" width="50" height="16.2" rx="6" fill="#3493dc" fill-opacity="0.75"/>
<rect x="1719.8" y="2390.8" width="48" height="10.8" rx="6" fill="#3493dc" fill-opacity="0.6"/>
<rect x="1796.4" y="2368.1" width="50" height="16.2" rx="6" fill="#3493dc" fill-opacity="0.75"/>
<rect x="1797.4" y="2390.8" width="48" height="10.8" rx="6" fill="#3493dc" fill-opacity="0.6"/>
<rect x="1872.0" y="2368.1" width="50" height="16.2" rx="6" fill="#3493dc" fill-opacity="0.75"/>
<rect x="1873.0" y="2390.8" width="48" height="10.8" rx="6" fill="#3493dc" fill-opacity="0.6"/>
<rect x="1940.5" y="2368.1" width="50" height="16.2" rx="6" fill="#3493dc" fill-opacity="0.75"/>
<rect x="1941.5" y="2390.8" width="48" height="10.8" rx="6" fill="#3493dc" fill-opacity="0.6"/>
<rect x="2007.0" y="2368.1" width="50" height="16.2" rx="6" fill="#3493dc" fill-opacity="0.75"/>
<rect x="2008.0" y="2390.8" width="48" height="10.8" rx="6" fill="#3493dc" fill-opacity="0.6"/>
</g>
</g>
<g clip-path="url(#cg3)">
<rect x="968" y="2456.5" width="1108" height="151.0" fill="url(#lg3)"/>
<rect x="980.5" y="2528.0" width="52" height="50" rx="21.0" fill="#2a2a2a" fill-opacity="0.72" filter="url(#b7)"/>
<rect x="1046.3" y="2531.0" width="46" height="44" rx="18.5" fill="#2a2a2a" fill-opacity="0.58" filter="url(#b7)"/>
<rect x="1112.5" y="2524.0" width="54" height="54" rx="22.7" fill="#2a2a2a" fill-opacity="0.82" filter="url(#b7)"/>
<rect x="1184.4" y="2522.0" width="58" height="56" rx="23.5" fill="#2a2a2a" fill-opacity="0.8" filter="url(#b7)"/>
<rect x="1252.3" y="2512.0" width="70" height="68" rx="28.6" fill="#2a2a2a" fill-opacity="0.9" filter="url(#b7)"/>
<rect x="1322.9" y="2498.0" width="84" height="84" rx="35.3" fill="#2a2a2a" fill-opacity="0.95" filter="url(#b7)"/>
<rect x="1395.6" y="2493.0" width="90" height="90" rx="37.8" fill="#2a2a2a" fill-opacity="0.97" filter="url(#b7)"/>
<rect x="1471.0" y="2490.0" width="94" height="94" rx="39.5" fill="#2a2a2a" fill-opacity="0.97" filter="url(#b7)"/>
<rect x="1541.7" y="2490.0" width="94" height="94" rx="39.5" fill="#2a2a2a" fill-opacity="0.97" filter="url(#b7)"/>
<rect x="1621.0" y="2490.0" width="94" height="94" rx="39.5" fill="#2a2a2a" fill-opacity="0.97" filter="url(#b7)"/>
<rect x="1696.8" y="2490.0" width="94" height="94" rx="39.5" fill="#2a2a2a" fill-opacity="0.97" filter="url(#b7)"/>
<rect x="1774.4" y="2490.0" width="94" height="94" rx="39.5" fill="#2a2a2a" fill-opacity="0.97" filter="url(#b7)"/>
<rect x="1849.0" y="2488.0" width="96" height="98" rx="40.3" fill="#2a2a2a" fill-opacity="0.97" filter="url(#b7)"/>
<rect x="1917.5" y="2487.0" width="96" height="100" rx="40.3" fill="#2a2a2a" fill-opacity="0.97" filter="url(#b7)"/>
<rect x="1984.0" y="2487.0" width="96" height="106" rx="40.3" fill="#2a2a2a" fill-opacity="0.97" filter="url(#b7)"/>
</g>
<clipPath id="cb4"><rect x="967" y="2657" width="1109" height="154"/></clipPath>
<clipPath id="cg4"><rect x="967" y="2811" width="1109" height="153.5"/></clipPath>
<linearGradient id="lg4" x1="0" y1="0" x2="0" y2="1"><stop offset="0" stop-color="#9b9a99"/><stop offset="0.28" stop-color="#9b9a99"/><stop offset="0.42" stop-color="#9e9e9e"/><stop offset="1" stop-color="#9a9a9a"/></linearGradient>
<g clip-path="url(#cb4)">
<rect x="967" y="2657" width="1109" height="154" fill="#a4d3f4"/>
<g filter="url(#b5)">
<rect x="980.9" y="2718.0" width="66" height="123.0" fill="#4aa6ea" fill-opacity="0.6"/>
<rect x="1054.8" y="2718.0" width="66" height="123.0" fill="#4aa6ea" fill-opacity="0.6"/>
<rect x="1128.7" y="2718.0" width="66" height="123.0" fill="#4aa6ea" fill-opacity="0.6"/>
<rect x="1198.9" y="2718.0" width="66" height="123.0" fill="#4aa6ea" fill-opacity="0.6"/>
<rect x="1276.5" y="2720.0" width="66" height="121.0" fill="#4aa6ea" fill-opacity="0.6"/>
<rect x="1350.4" y="2722.0" width="66" height="119.0" fill="#4aa6ea" fill-opacity="0.6"/>
<rect x="1420.6" y="2724.0" width="66" height="117.0" fill="#4aa6ea" fill-opacity="0.6"/>
<rect x="1495.5" y="2726.0" width="66" height="115.0" fill="#4aa6ea" fill-opacity="0.6"/>
<rect x="1570.4" y="2728.0" width="66" height="113.0" fill="#4aa6ea" fill-opacity="0.6"/>
<rect x="1646.2" y="2728.0" width="66" height="113.0" fill="#4aa6ea" fill-opacity="0.6"/>
<rect x="1718.2" y="2728.0" width="66" height="113.0" fill="#4aa6ea" fill-opacity="0.6"/>
<rect x="1792.0" y="2728.0" width="66" height="113.0" fill="#4aa6ea" fill-opacity="0.6"/>
<rect x="1864.0" y="2728.0" width="66" height="113.0" fill="#4aa6ea" fill-opacity="0.6"/>
<rect x="1932.5" y="2726.0" width="66" height="115.0" fill="#4aa6ea" fill-opacity="0.6"/>
<rect x="2002.7" y="2724.0" width="66" height="117.0" fill="#4aa6ea" fill-opacity="0.6"/>
<rect x="1042.8" y="2741.0" width="16" height="100.0" fill="#f4faff" fill-opacity="0.65"/>
<rect x="1116.8" y="2741.0" width="16" height="100.0" fill="#f4faff" fill-opacity="0.65"/>
<rect x="1188.8" y="2741.0" width="16" height="100.0" fill="#f4faff" fill-opacity="0.65"/>
<rect x="1262.7" y="2743.0" width="16" height="98.0" fill="#f4faff" fill-opacity="0.65"/>
<rect x="1338.5" y="2745.0" width="16" height="96.0" fill="#f4faff" fill-opacity="0.65"/>
<rect x="1410.5" y="2747.0" width="16" height="94.0" fill="#f4faff" fill-opacity="0.65"/>
<rect x="1483.0" y="2749.0" width="16" height="92.0" fill="#f4faff" fill-opacity="0.65"/>
<rect x="1558.0" y="2751.0" width="16" height="90.0" fill="#f4faff" fill-opacity="0.65"/>
<rect x="1633.3" y="2751.0" width="16" height="90.0" fill="#f4faff" fill-opacity="0.65"/>
<rect x="1707.2" y="2751.0" width="16" height="90.0" fill="#f4faff" fill-opacity="0.65"/>
<rect x="1780.1" y="2751.0" width="16" height="90.0" fill="#f4faff" fill-opacity="0.65"/>
<rect x="1853.0" y="2751.0" width="16" height="90.0" fill="#f4faff" fill-opacity="0.65"/>
<rect x="1923.2" y="2751.0" width="16" height="90.0" fill="#f4faff" fill-opacity="0.65"/>
<rect x="1992.6" y="2749.0" width="16" height="92.0" fill="#f4faff" fill-opacity="0.65"/>
</g>
<g filter="url(#b5)">
<rect x="975.9" y="2681.0" width="76" height="74" rx="15" fill="#1a8ae3" fill-opacity="1.0"/>
<rect x="1049.8" y="2681.0" width="76" height="74" rx="15" fill="#1a8ae3" fill-opacity="1.0"/>
<rect x="1123.7" y="2681.0" width="76" height="74" rx="15" fill="#1a8ae3" fill-opacity="1.0"/>
<rect x="1193.9" y="2681.0" width="76" height="74" rx="15" fill="#1a8ae3" fill-opacity="1.0"/>
<rect x="1271.5" y="2683.0" width="76" height="74" rx="15" fill="#1a8ae3" fill-opacity="1.0"/>
<rect x="1345.4" y="2685.0" width="76" height="74" rx="15" fill="#1a8ae3" fill-opacity="1.0"/>
<rect x="1415.6" y="2687.0" width="76" height="74" rx="15" fill="#1a8ae3" fill-opacity="1.0"/>
<rect x="1490.5" y="2689.0" width="76" height="74" rx="15" fill="#1a8ae3" fill-opacity="1.0"/>
<rect x="1565.4" y="2691.0" width="76" height="74" rx="15" fill="#1a8ae3" fill-opacity="1.0"/>
<rect x="1641.2" y="2691.0" width="76" height="74" rx="15" fill="#1a8ae3" fill-opacity="1.0"/>
<rect x="1713.2" y="2691.0" width="76" height="74" rx="15" fill="#1a8ae3" fill-opacity="1.0"/>
<rect x="1787.0" y="2691.0" width="76" height="74" rx="15" fill="#1a8ae3" fill-opacity="1.0"/>
<rect x="1859.0" y="2691.0" width="76" height="74" rx="15" fill="#1a8ae3" fill-opacity="1.0"/>
<rect x="1927.5" y="2689.0" width="76" height="74" rx="15" fill="#1a8ae3" fill-opacity="1.0"/>
<rect x="1997.7" y="2687.0" width="76" height="74" rx="15" fill="#1a8ae3" fill-opacity="1.0"/>
</g>
<g filter="url(#b3)">
<rect x="980.9" y="2701.7" width="66" height="22.2" rx="6" fill="#0c7edc" fill-opacity="0.75"/>
<rect x="981.9" y="2732.8" width="64" height="14.8" rx="6" fill="#0c7edc" fill-opacity="0.6"/>
<rect x="1054.8" y="2701.7" width="66" height="22.2" rx="6" fill="#0c7edc" fill-opacity="0.75"/>
<rect x="1055.8" y="2732.8" width="64" height="14.8" rx="6" fill="#0c7edc" fill-opacity="0.6"/>
<rect x="1128.7" y="2701.7" width="66" height="22.2" rx="6" fill="#0c7edc" fill-opacity="0.75"/>
<rect x="1129.7" y="2732.8" width="64" height="14.8" rx="6" fill="#0c7edc" fill-opacity="0.6"/>
<rect x="1198.9" y="2701.7" width="66" height="22.2" rx="6" fill="#0c7edc" fill-opacity="0.75"/>
<rect x="1199.9" y="2732.8" width="64" height="14.8" rx="6" fill="#0c7edc" fill-opacity="0.6"/>
<rect x="1276.5" y="2703.7" width="66" height="22.2" rx="6" fill="#0c7edc" fill-opacity="0.75"/>
<rect x="1277.5" y="2734.8" width="64" height="14.8" rx="6" fill="#0c7edc" fill-opacity="0.6"/>
<rect x="1350.4" y="2705.7" width="66" height="22.2" rx="6" fill="#0c7edc" fill-opacity="0.75"/>
<rect x="1351.4" y="2736.8" width="64" height="14.8" rx="6" fill="#0c7edc" fill-opacity="0.6"/>
<rect x="1420.6" y="2707.7" width="66" height="22.2" rx="6" fill="#0c7edc" fill-opacity="0.75"/>
<rect x="1421.6" y="2738.8" width="64" height="14.8" rx="6" fill="#0c7edc" fill-opacity="0.6"/>
<rect x="1495.5" y="2709.7" width="66" height="22.2" rx="6" fill="#0c7edc" fill-opacity="0.75"/>
<rect x="1496.5" y="2740.8" width="64" height="14.8" rx="6" fill="#0c7edc" fill-opacity="0.6"/>
<rect x="1570.4" y="2711.7" width="66" height="22.2" rx="6" fill="#0c7edc" fill-opacity="0.75"/>
<rect x="1571.4" y="2742.8" width="64" height="14.8" rx="6" fill="#0c7edc" fill-opacity="0.6"/>
<rect x="1646.2" y="2711.7" width="66" height="22.2" rx="6" fill="#0c7edc" fill-opacity="0.75"/>
<rect x="1647.2" y="2742.8" width="64" height="14.8" rx="6" fill="#0c7edc" fill-opacity="0.6"/>
<rect x="1718.2" y="2711.7" width="66" height="22.2" rx="6" fill="#0c7edc" fill-opacity="0.75"/>
<rect x="1719.2" y="2742.8" width="64" height="14.8" rx="6" fill="#0c7edc" fill-opacity="0.6"/>
<rect x="1792.0" y="2711.7" width="66" height="22.2" rx="6" fill="#0c7edc" fill-opacity="0.75"/>
<rect x="1793.0" y="2742.8" width="64" height="14.8" rx="6" fill="#0c7edc" fill-opacity="0.6"/>
<rect x="1864.0" y="2711.7" width="66" height="22.2" rx="6" fill="#0c7edc" fill-opacity="0.75"/>
<rect x="1865.0" y="2742.8" width="64" height="14.8" rx="6" fill="#0c7edc" fill-opacity="0.6"/>
<rect x="1932.5" y="2709.7" width="66" height="22.2" rx="6" fill="#0c7edc" fill-opacity="0.75"/>
<rect x="1933.5" y="2740.8" width="64" height="14.8" rx="6" fill="#0c7edc" fill-opacity="0.6"/>
<rect x="2002.7" y="2707.7" width="66" height="22.2" rx="6" fill="#0c7edc" fill-opacity="0.75"/>
<rect x="2003.7" y="2738.8" width="64" height="14.8" rx="6" fill="#0c7edc" fill-opacity="0.6"/>
</g>
</g>
<g clip-path="url(#cg4)">
<rect x="967" y="2811" width="1109" height="153.5" fill="url(#lg4)"/>
<rect x="981.9" y="2870.0" width="64" height="40" rx="16.8" fill="#262626" fill-opacity="0.42" filter="url(#b7)"/>
<rect x="1055.8" y="2872.0" width="64" height="40" rx="16.8" fill="#262626" fill-opacity="0.26" filter="url(#b7)"/>
<rect x="1129.7" y="2870.0" width="64" height="40" rx="16.8" fill="#262626" fill-opacity="0.48" filter="url(#b7)"/>
<rect x="1199.9" y="2868.0" width="64" height="40" rx="16.8" fill="#262626" fill-opacity="0.62" filter="url(#b7)"/>
<rect x="1277.5" y="2870.0" width="64" height="40" rx="16.8" fill="#262626" fill-opacity="0.52" filter="url(#b7)"/>
<rect x="1351.4" y="2868.0" width="64" height="40" rx="16.8" fill="#262626" fill-opacity="0.72" filter="url(#b7)"/>
<rect x="1421.6" y="2868.0" width="64" height="40" rx="16.8" fill="#262626" fill-opacity="0.82" filter="url(#b7)"/>
<rect x="1496.5" y="2872.0" width="64" height="40" rx="16.8" fill="#262626" fill-opacity="0.76" filter="url(#b7)"/>
<rect x="1571.4" y="2876.0" width="64" height="40" rx="16.8" fill="#262626" fill-opacity="0.62" filter="url(#b7)"/>
<rect x="1647.2" y="2876.0" width="64" height="40" rx="16.8" fill="#262626" fill-opacity="0.62" filter="url(#b7)"/>
<rect x="1719.2" y="2876.0" width="64" height="40" rx="16.8" fill="#262626" fill-opacity="0.66" filter="url(#b7)"/>
<rect x="1793.0" y="2876.0" width="64" height="40" rx="16.8" fill="#262626" fill-opacity="0.62" filter="url(#b7)"/>
<rect x="1865.0" y="2876.0" width="64" height="40" rx="16.8" fill="#262626" fill-opacity="0.56" filter="url(#b7)"/>
<rect x="1933.5" y="2874.0" width="64" height="40" rx="16.8" fill="#262626" fill-opacity="0.82" filter="url(#b7)"/>
<rect x="2003.7" y="2874.0" width="64" height="40" rx="16.8" fill="#262626" fill-opacity="0.72" filter="url(#b7)"/>
</g>
</g>
<rect x="2075.8" y="1150" width="80" height="150" fill="#fefefe"/>
</svg></body></html>
